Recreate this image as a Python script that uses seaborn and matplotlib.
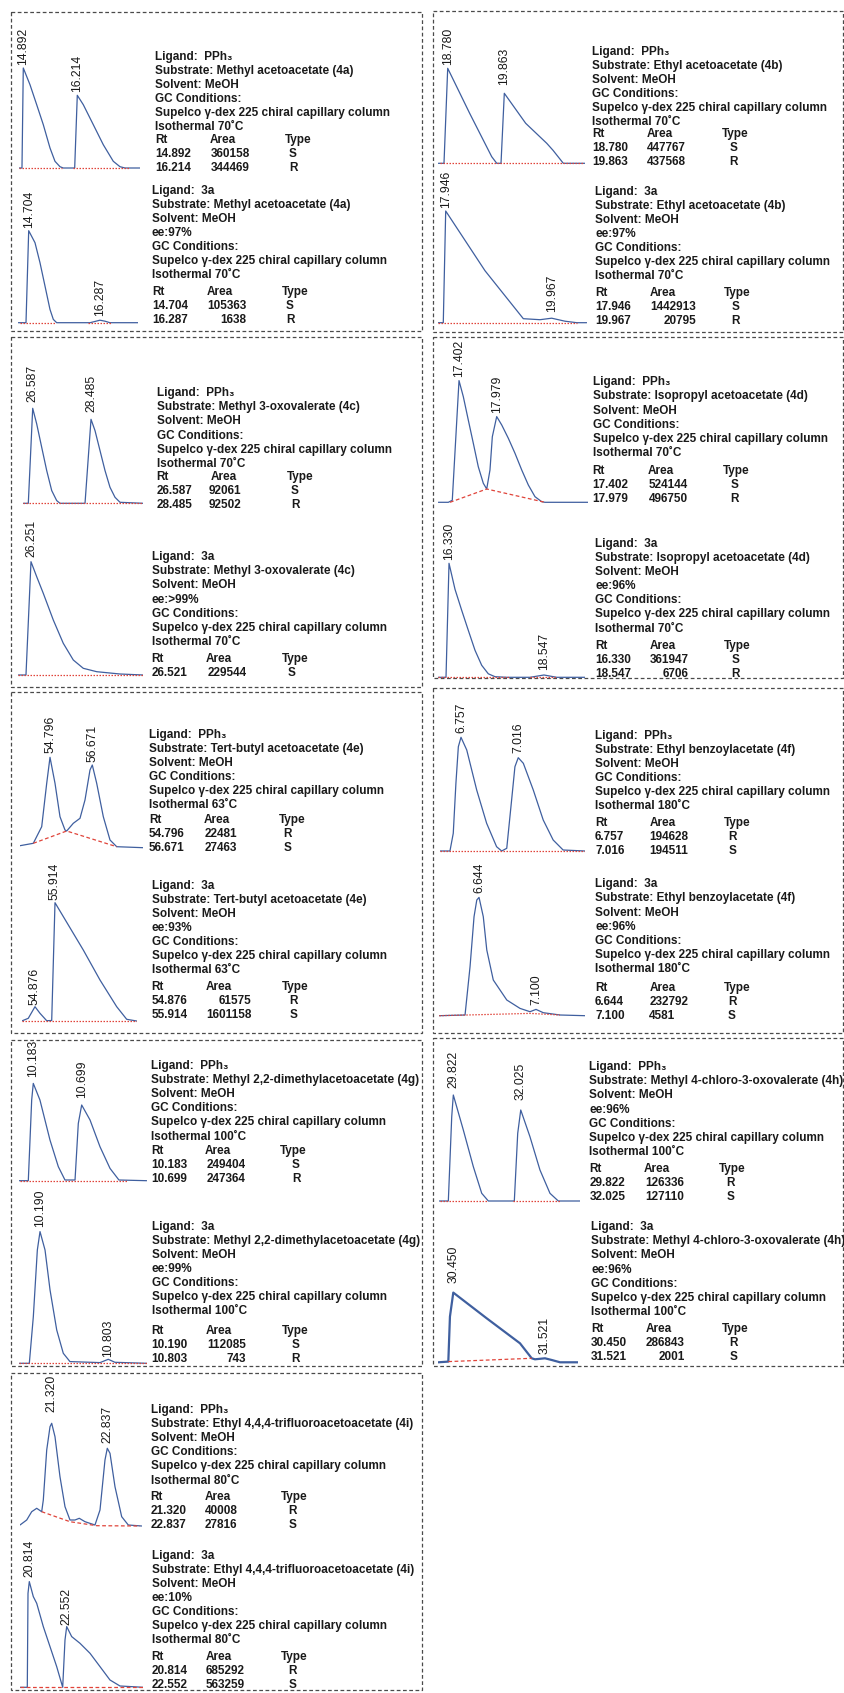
import numpy as np
import pandas as pd
import matplotlib
matplotlib.use("Agg")
import matplotlib.pyplot as plt
from matplotlib.patches import Rectangle
import seaborn as sns

# ======================= DATA =======================
substrates = ["Methyl acetoacetate (4a)", "Ethyl acetoacetate (4b)", "Methyl 3-oxovalerate (4c)",
              "Isopropyl acetoacetate (4d)", "Tert-butyl acetoacetate (4e)", "Ethyl benzoylacetate (4f)",
              "Methyl 2,2-dimethylacetoacetate (4g)", "Methyl 4-chloro-3-oxovalerate (4h)",
              "Ethyl 4,4,4-trifluoroacetoacetate (4i)"]
temps = ["70", "70", "70", "70", "63", "180", "100", "100", "80"]
ee_pph3 = [None, None, None, None, None, None, None, "96%", None]
ee_3a = ["97%", "97%", ">99%", "96%", "93%", "96%", "99%", "96%", "10%"]

rt_pph3 = [["14.892", "16.214"], ["18.780", "19.863"], ["26.587", "28.485"], ["17.402", "17.979"],
           ["54.796", "56.671"], ["6.757", "7.016"], ["10.183", "10.699"], ["29.822", "32.025"],
           ["21.320", "22.837"]]
area_pph3 = [["360158", "344469"], ["447767", "437568"], ["92061", "92502"], ["524144", "496750"],
             ["22481", "27463"], ["194628", "194511"], ["249404", "247364"], ["126336", "127110"],
             ["40008", "27816"]]
type_pph3 = [["S", "R"], ["S", "R"], ["S", "R"], ["S", "R"], ["R", "S"], ["R", "S"], ["S", "R"],
             ["R", "S"], ["R", "S"]]
rt_3a = [["14.704", "16.287"], ["17.946", "19.967"], ["26.521"], ["16.330", "18.547"],
         ["54.876", "55.914"], ["6.644", "7.100"], ["10.190", "10.803"], ["30.450", "31.521"],
         ["20.814", "22.552"]]
area_3a = [["105363", "1638"], ["1442913", "20795"], ["229544"], ["361947", "6706"],
           ["61575", "1601158"], ["232792", "4581"], ["112085", "743"], ["286843", "2001"],
           ["685292", "563259"]]
type_3a = [["S", "R"], ["S", "R"], ["S"], ["S", "R"], ["R", "S"], ["R", "S"], ["S", "R"],
           ["R", "S"], ["R", "S"]]
peaklab_pph3 = rt_pph3
peaklab_3a = [["14.704", "16.287"], ["17.946", "19.967"], ["26.251"], ["16.330", "18.547"],
              ["54.876", "55.914"], ["6.644", "7.100"], ["10.190", "10.803"], ["30.450", "31.521"],
              ["20.814", "22.552"]]

# chromatogram traces: retention time (min) and detector signal (a.u.)
t_a_p = [14.787, 14.860, 14.892, 15.056, 15.220, 15.382, 15.546, 15.668, 15.790, 15.871, 16.150, 16.214,
         16.361, 16.606, 16.850, 17.095, 17.259, 17.382, 17.749]
h_a_p = [0, 0, 100, 83.3, 63.3, 43.3, 20, 6.7, 1.3, 0, 0, 72.7, 63.3, 43.3, 23.3, 6.7, 1.3, 0, 0]
t_a_3 = [14.473, 14.644, 14.704, 14.844, 14.955, 15.066, 15.177, 15.251, 15.326, 16.066, 16.20, 16.287,
         16.40, 16.509, 17.133]
h_a_3 = [0, 0, 92, 80, 60, 36.7, 13.3, 3.3, 0, 0, 1.5, 2.5, 1.5, 0, 0]
t_b_p = [18.600, 18.709, 18.780, 19.20, 19.622, 19.718, 19.800, 19.863, 20.272, 20.675, 20.795, 20.992, 21.407]
h_b_p = [0, 0, 95, 50, 6.6, 0, 0, 70, 40, 20, 13, 0, 0]
t_b_3 = [17.805, 17.900, 17.946, 18.695, 19.426, 19.744, 19.967, 20.220, 20.444, 20.634]
h_b_3 = [0, 0, 111.7, 52, 4, 3, 4.5, 1.5, 0, 0]
t_c_p = [26.281, 26.444, 26.587, 26.717, 26.880, 27.043, 27.206, 27.368, 27.476, 28.290, 28.485, 28.615,
         28.778, 28.941, 29.103, 29.266, 29.429, 30.187]
h_c_p = [0, 0, 95, 79.4, 56, 32.7, 12.7, 2.7, 0, 0, 84, 72.7, 52.7, 32.7, 16, 6, 1, 0]
t_c_3 = [25.838, 26.088, 26.251, 26.437, 26.651, 26.977, 27.302, 27.628, 27.953, 28.390, 29.148, 29.907]
h_c_3 = [0, 0, 113.3, 98.3, 81.7, 55, 31.7, 15, 6.7, 3.3, 1, 0]
t_d_p = [17.085, 17.238, 17.299, 17.402, 17.468, 17.544, 17.621, 17.697, 17.774, 17.826, 17.876, 17.912,
         17.979, 18.056, 18.157, 18.259, 18.362, 18.463, 18.565, 18.668, 18.718, 19.381]
h_d_p = [0, 0, 2, 121.7, 105.6, 82.3, 59, 35.6, 19, 13.3, 32.3, 65.6, 85.7, 77.3, 64, 49, 32.3, 17.3,
         5.6, 0.6, 0, 0]
t_d_3 = [16.080, 16.260, 16.330, 16.470, 16.626, 16.780, 16.937, 17.093, 17.247, 17.404, 17.677, 18.220,
         18.547, 18.843, 19.504]
h_d_3 = [0, 0, 114, 88, 67, 47, 27, 12, 3.5, 0.6, 0, 0, 2.3, 0, 0]
t_e_p = [53.466, 54.056, 54.428, 54.650, 54.796, 55.018, 55.239, 55.461, 55.536, 55.829, 56.126, 56.347,
         56.569, 56.671, 56.866, 57.159, 57.456, 57.753, 58.932]
h_e_p = [2.3, 4.7, 21.3, 64.7, 90.7, 64.7, 31.3, 18, 17, 24.7, 29.7, 48, 78, 83, 64.7, 31.3, 8, 1.3, 0.3]
t_e_3 = [54.186, 54.528, 54.876, 55.135, 55.483, 55.743, 55.914, 57.382, 58.249, 59.116, 59.635, 60.154]
h_e_3 = [0, 2.7, 14.3, 7.7, 0.3, 0.5, 118.3, 71, 41, 14.3, 1.7, 0]
t_f_p = [6.662, 6.707, 6.722, 6.734, 6.745, 6.757, 6.783, 6.828, 6.873, 6.918, 6.941, 6.964, 6.986, 7.001,
         7.016, 7.039, 7.084, 7.129, 7.174, 7.219, 7.318]
h_f_p = [0, 0, 17.7, 67.7, 104.3, 113.7, 101, 61, 27.7, 4.3, 0, 2.7, 51, 84.3, 93.3, 87.7, 61, 31, 11, 1, 0]
t_f_3 = [6.326, 6.532, 6.572, 6.604, 6.626, 6.644, 6.678, 6.706, 6.758, 6.866, 6.972, 7.052, 7.100, 7.158,
         7.292, 7.492]
h_f_3 = [0, 0.7, 49, 99, 115.7, 118.3, 99, 65.7, 35.7, 15.7, 7.3, 4, 6.3, 3, 0.7, 0]
t_g_p = [10.034, 10.130, 10.166, 10.183, 10.254, 10.361, 10.450, 10.521, 10.628, 10.663, 10.699, 10.788,
         10.894, 11.001, 11.096, 11.392]
h_g_p = [0, 0, 80.7, 97.3, 80.7, 40.7, 14, 0.7, 0.7, 57.3, 75.7, 60.7, 34, 12.3, 0.7, 0]
t_g_3 = [10.004, 10.094, 10.130, 10.166, 10.190, 10.235, 10.280, 10.340, 10.399, 10.459, 10.729, 10.803,
         10.863, 11.148]
h_g_3 = [0, 0, 46.7, 113.3, 131.7, 113.3, 73.3, 33.3, 10, 1.7, 0.7, 4, 1, 0]
t_h_p = [29.364, 29.659, 29.770, 29.822, 30.149, 30.476, 30.750, 30.966, 31.815, 31.926, 32.025, 32.326,
         32.653, 32.980, 33.252, 33.961]
h_h_p = [0, 0, 84.3, 106, 71, 34.3, 7.7, 0, 0, 67.7, 91, 64.3, 31, 7.7, 0, 0]
t_h_3 = [30.275, 30.392, 30.411, 30.450, 30.840, 31.229, 31.366, 31.404, 31.521, 31.600, 31.697, 31.910]
h_h_3 = [0, 0.7, 45.7, 69.7, 44, 19, 4, 3, 4, 2.3, 0, 0]
t_i_p = [20.455, 20.638, 20.774, 20.911, 21.047, 21.091, 21.184, 21.274, 21.320, 21.410, 21.546, 21.683,
         21.819, 21.956, 22.073, 22.229, 22.501, 22.638, 22.774, 22.837, 22.911, 23.047, 23.230, 23.410, 23.776]
h_i_p = [1, 6, 14.3, 17.7, 14.3, 26, 76, 99.3, 102.7, 89.3, 49.3, 19.3, 6, 6, 7.7, 4.3, 1, 16, 66, 77.7,
         72.7, 39.3, 9.3, 1, 0]
t_i_3 = [20.382, 20.721, 20.754, 20.814, 21.000, 21.158, 21.465, 21.776, 22.087, 22.366, 22.473, 22.552,
         22.784, 23.170, 23.636, 24.099, 24.564, 25.029, 26.112]
h_i_3 = [0, 0, 94, 105.7, 90.7, 84, 60.7, 40.7, 20.7, 0, 47.3, 60.7, 50.7, 44, 34, 20.7, 7.3, 1.3, 0]

# integration baselines (NaN separates segments)
nan = np.nan
bt_a_p, bh_a_p = [14.787, 15.836, nan, 16.11, 17.50], [0, 0, nan, 0, 0]
bt_a_3, bh_a_3 = [14.50, 15.30, nan, 16.02, 16.55], [0, 0, nan, 0, 0]
bt_b_p, bh_b_p = [18.633, 21.370], [0, 0]
bt_b_3, bh_b_3 = [17.805, 20.444], [0, 0]
bt_c_p, bh_c_p = [26.281, 30.187], [0, 0]
bt_c_3, bh_c_3 = [25.838, 29.907], [0, 0]
bt_d_p, bh_d_p = [17.264, 17.826, 18.718], [0, 13.3, 0]
bt_d_3, bh_d_3 = [16.080, 17.75, nan, 18.22, 18.843], [0, 0, nan, 0, 0]
bt_e_p, bh_e_p = [54.056, 55.536, 57.753], [4.7, 17, 1.3]
bt_e_3, bh_e_3 = [54.186, 60.154], [0, 0]
bt_f_p, bh_f_p = [6.662, 7.318], [0, 0]
bt_f_3, bh_f_3 = [6.326, 7.052, 7.292], [0, 2.3, 0.7]
bt_g_p, bh_g_p = [10.041, 11.179], [0, 0]
bt_g_3, bh_g_3 = [10.004, 11.148], [0, 0]
bt_h_p, bh_h_p = [29.386, 30.909, nan, 31.783, 33.30], [0, 0, nan, 0, 0]
bt_h_3, bh_h_3 = [30.392, 31.366], [0.7, 4]
bt_i_p, bh_i_p = [21.047, 21.819, 22.547, 23.731], [14.3, 4.3, 0.3, 0]
bt_i_3, bh_i_3 = [20.382, 26.112], [0, 0]

# ======================= LAYOUT (pixels) =======================
W, H = 844, 1693
BLUE = "#3f5f9f"
RED = "#e0443a"
TXT = "#1a1a1a"

# trace layout: x start px, x end px, baseline y px, label gaps, line width, baseline style
lay_tr_p = [(19, 140, 168, [3.3, 3.7], 0.9, ':'),
            (438.3, 585, 163.3, [3.3, 8.3], 0.9, ':'),
            (23.3, 143.3, 503.3, [6.6, 7.6], 0.9, ':'),
            (438.3, 588.3, 502.3, [4, 3.4], 0.9, '--'),
            (20, 143.3, 848, [4, 3.3], 0.9, '--'),
            (440, 585, 851, [4, 4.4], 0.9, ':'),
            (19.3, 146.7, 1180.7, [6.4, 6.7], 0.9, ':'),
            (439.3, 580, 1201, [6.7, 10], 0.9, ':'),
            (20, 141.7, 1526, [11, 5], 0.9, '--')]
lay_tr_3 = [(18.3, 138, 322.7, [2.3, 4], 0.9, ':'),
            (438.3, 586.7, 322.7, [2.7, 6.5], 0.9, ':'),
            (18.3, 143.3, 675, [4.3], 0.9, ':'),
            (438.3, 585, 677.3, [3, 5], 0.9, ':'),
            (21.7, 136.7, 1021, [1.7, 2.7], 0.9, ':'),
            (439.3, 585, 1015.7, [4.1, 4.4], 0.9, ':'),
            (19.3, 146.7, 1363.3, [4.9, 2.6], 0.9, ':'),
            (438.3, 578.3, 1362.3, [9.3, 4.3], 1.6, '--'),
            (20, 143.3, 1687.3, [5, 1.6], 0.9, '--')]

# text block layout: x, y first line, y Rt row, Area x, value x, value align, Type x, S/R x
lay_bl_p = [(155, 56.7, 140, 209.3, 210.5, 'left', 285, 289),
            (592.3, 51.7, 134.3, 646.7, 647, 'left', 721.7, 729.3),
            (156.7, 393.3, 476.7, 211, 208.5, 'left', 286.7, 291),
            (592.7, 382.3, 470.7, 647.3, 648.7, 'left', 722.7, 730.7),
            (149, 735, 820, 203.3, 205, 'left', 279.3, 283.3),
            (595, 735.7, 822.7, 649.3, 649.3, 'left', 724, 728.3),
            (151, 1066, 1151, 205, 206.7, 'left', 280, 292),
            (589.3, 1067.3, 1169.3, 644, 645, 'left', 719.3, 726.7),
            (150.7, 1410, 1496.7, 205, 205, 'left', 281, 288.3)]
lay_bl_3 = [(152, 190.7, 292, 206.7, 246, 'right', 281.7, 286),
            (595, 191.7, 293.3, 649.3, 696, 'right', 724, 731.7),
            (151.7, 557.3, 659.3, 206, 207.3, 'left', 281.7, 287.3),
            (595, 544, 645.7, 649.3, 688.3, 'right', 724.3, 731.7),
            (151.7, 885.7, 987.3, 206, 251.7, 'right', 281.7, 289.3),
            (595, 884.3, 987.7, 649.3, 649.3, 'left', 724, 728),
            (151.7, 1226.7, 1331, 206, 245.7, 'right', 281.7, 291.7),
            (591, 1227.3, 1329.3, 646, 685, 'right', 721.7, 729.3),
            (151.7, 1555.7, 1657.3, 206, 206, 'left', 281, 288.3)]

boxes = [(11, 12, 422, 331), (11, 337, 422, 687), (11, 692, 422, 1033), (11, 1040, 422, 1366),
         (11, 1373, 422, 1690),
         (433, 11, 843, 332), (433, 337, 843, 678), (433, 688, 843, 1033), (433, 1038, 843, 1366)]

# ======================= DRAW =======================
sns.set_style("white")
plt.rcParams["font.family"] = ["Liberation Sans", "DejaVu Sans"]

fig = plt.figure(figsize=(W / 100, H / 100), dpi=100)
bg = fig.add_axes([0, 0, 1, 1])
bg.set_xlim(0, W)
bg.set_ylim(H, 0)
bg.axis("off")

for (x0, y0, x1, y1) in boxes:
    bg.add_patch(Rectangle((x0, y0), x1 - x0, y1 - y0, fill=False, edgecolor="#4a4a4a",
                           linestyle=(0, (3, 2)), linewidth=0.9))

TOP = 150


def draw_trace(t, h, bt, bh, labels, lay):
    pA, pB, yb, gaps, lw, bls = lay
    ax = fig.add_axes([pA / W, 1 - (yb + 3) / H, (pB - pA) / W, (TOP + 3) / H])
    df = pd.DataFrame({"t": t, "h": h})
    sns.lineplot(data=df, x="t", y="h", ax=ax, color=BLUE, linewidth=lw, sort=False, estimator=None)
    bt = np.asarray(bt, float)
    bh = np.asarray(bh, float)
    seg = np.cumsum(np.isnan(bt))
    for s in np.unique(seg):
        m = (seg == s) & ~np.isnan(bt)
        if m.sum() < 2:
            continue
        style = (0, (1.2, 1.2)) if bls == ':' else (0, (3, 2))
        sns.lineplot(x=bt[m], y=bh[m], ax=ax, color=RED, linewidth=0.9, linestyle=style,
                     sort=False, estimator=None)
    ax.set_xlim(t[0], t[-1])
    ax.set_ylim(-3, TOP)
    ax.axis("off")
    for lab, g in zip(labels, gaps):
        pt = float(lab)
        ph = np.interp(pt, t, h)
        ax.text(pt, ph + g, lab, rotation=90, ha="center", va="bottom", fontsize=8.7,
                color=TXT, clip_on=False)


KW = dict(fontsize=8.45, fontweight="bold", color=TXT, va="center")
LS = 14.1


def draw_block(lines, rts, areas, types, lay):
    x, yL, yRt, ax_, vx, va_, tx, sx = lay
    for i, s in enumerate(lines):
        bg.text(x, yL + i * LS, s, ha="left", **KW)
    bg.text(x, yRt, "Rt", ha="left", **KW)
    bg.text(ax_, yRt, "Area", ha="left", **KW)
    bg.text(tx, yRt, "Type", ha="left", **KW)
    for j, (r, a, ty) in enumerate(zip(rts, areas, types)):
        y = yRt + 14 * (j + 1)
        bg.text(x, y, r, ha="left", **KW)
        bg.text(vx, y, a, ha=va_, **KW)
        bg.text(sx, y, ty, ha="left", **KW)


traces_p = [(t_a_p, h_a_p, bt_a_p, bh_a_p), (t_b_p, h_b_p, bt_b_p, bh_b_p), (t_c_p, h_c_p, bt_c_p, bh_c_p),
            (t_d_p, h_d_p, bt_d_p, bh_d_p), (t_e_p, h_e_p, bt_e_p, bh_e_p), (t_f_p, h_f_p, bt_f_p, bh_f_p),
            (t_g_p, h_g_p, bt_g_p, bh_g_p), (t_h_p, h_h_p, bt_h_p, bh_h_p), (t_i_p, h_i_p, bt_i_p, bh_i_p)]
traces_3 = [(t_a_3, h_a_3, bt_a_3, bh_a_3), (t_b_3, h_b_3, bt_b_3, bh_b_3), (t_c_3, h_c_3, bt_c_3, bh_c_3),
            (t_d_3, h_d_3, bt_d_3, bh_d_3), (t_e_3, h_e_3, bt_e_3, bh_e_3), (t_f_3, h_f_3, bt_f_3, bh_f_3),
            (t_g_3, h_g_3, bt_g_3, bh_g_3), (t_h_3, h_h_3, bt_h_3, bh_h_3), (t_i_3, h_i_3, bt_i_3, bh_i_3)]

for k in range(9):
    t, h, bt, bh = traces_p[k]
    draw_trace(t, h, bt, bh, peaklab_pph3[k], lay_tr_p[k])
    t, h, bt, bh = traces_3[k]
    draw_trace(t, h, bt, bh, peaklab_3a[k], lay_tr_3[k])

    lines_p = ["Ligand:  PPh\u2083", "Substrate: " + substrates[k], "Solvent: MeOH"]
    if ee_pph3[k]:
        lines_p.append("ee:" + ee_pph3[k])
    lines_p += ["GC Conditions:", "Supelco \u03b3-dex 225 chiral capillary column",
                "Isothermal " + temps[k] + "\u02daC"]
    draw_block(lines_p, rt_pph3[k], area_pph3[k], type_pph3[k], lay_bl_p[k])

    lines_3 = ["Ligand:  3a", "Substrate: " + substrates[k], "Solvent: MeOH", "ee:" + ee_3a[k],
               "GC Conditions:", "Supelco \u03b3-dex 225 chiral capillary column",
               "Isothermal " + temps[k] + "\u02daC"]
    draw_block(lines_3, rt_3a[k], area_3a[k], type_3a[k], lay_bl_3[k])

fig.savefig("out.png", dpi=100)
